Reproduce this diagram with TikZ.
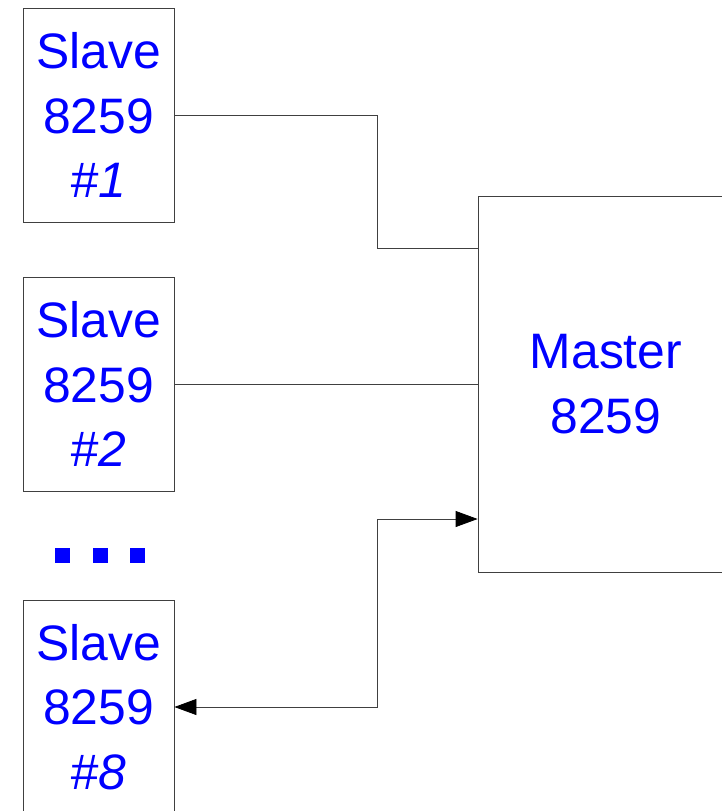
\documentclass[tikz,border=0pt]{standalone}
\usepackage{fontspec}
\setmainfont{Liberation Sans}
\usetikzlibrary{arrows.meta,calc,positioning}

\begin{document}
\begin{tikzpicture}[x=1bp,y=-1bp,
        chip/.style = {
            draw=black!75,
            line width=0.8bp,
            inner sep=0pt,
            align=center,
            text=blue,
            font=\fontsize{50}{65}\selectfont},
        slave/.style = {chip, minimum width=151bp, minimum height=214bp},
        wire/.style = {draw=black!75, line width=0.8bp},
        >={Triangle[length=22bp,width=16bp,black]}
    ]
    \useasboundingbox (0,0) rectangle (722,811);
    \clip (0,0) rectangle (722,811);

    \node[slave] (s1) at (98.5,115) {Slave\\8259\\\textit{\#1}};
    \node[slave] (s2) at (98.5,384) {Slave\\8259\\\textit{\#2}};
    \node[slave] (s8) at (98.5,707) {Slave\\8259\\\textit{\#8}};
    \node[chip, minimum width=256bp, minimum height=376bp] (master) at (606,384) {Master\\8259};

    % dots between #2 and #8
    \foreach \x in {62.5,100,137.5}
        \fill[blue] (\x-7.5,548) rectangle (\x+7.5,563);

    \coordinate (in1) at ($(master.north west)+(0,53)$);
    \coordinate (in8) at ($(master.west)+(0,135)$);

    \draw[wire] (s1.east) -| (377,115) |- (in1);
    \draw[wire] (s2.east) -- (master.west);
    \draw[wire,<->] (s8.east) -| (377,707) |- (in8);
\end{tikzpicture}
\end{document}
